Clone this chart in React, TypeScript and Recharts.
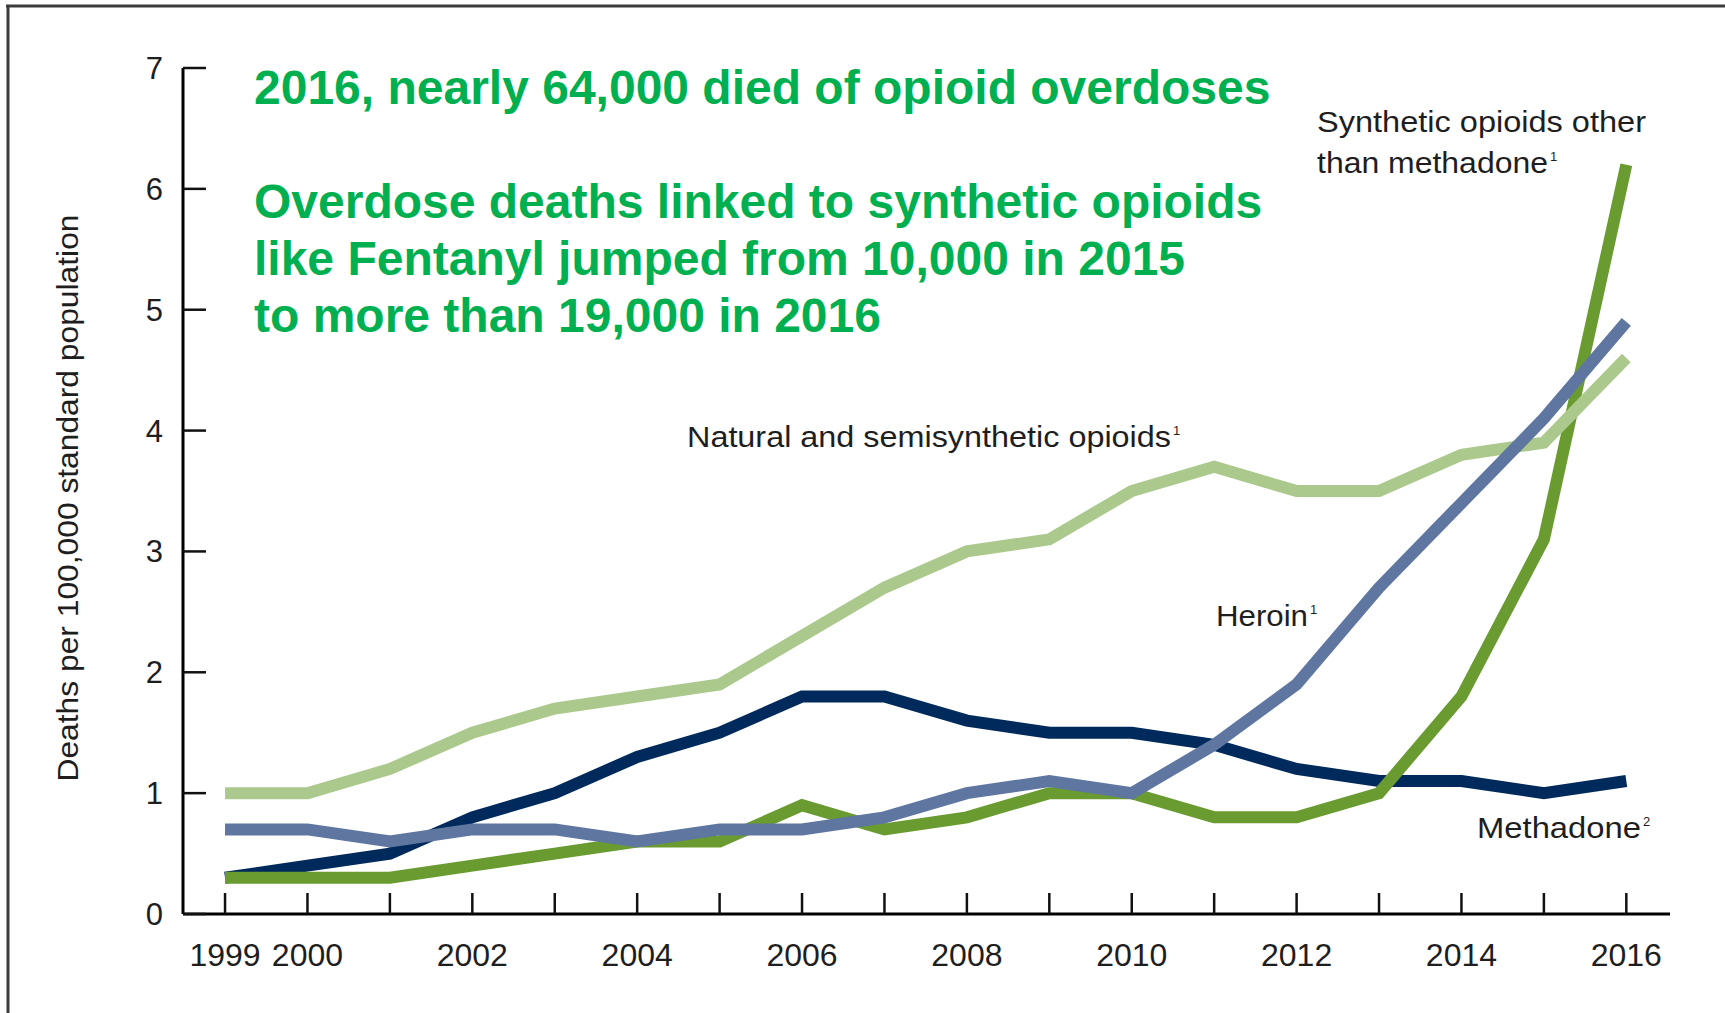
import { LineChart, Line, XAxis, YAxis } from "recharts";

const years = [
  1999, 2000, 2001, 2002, 2003, 2004, 2005, 2006, 2007, 2008, 2009, 2010,
  2011, 2012, 2013, 2014, 2015, 2016,
];
const naturalSemisynthetic = [
  1.0, 1.0, 1.2, 1.5, 1.7, 1.8, 1.9, 2.3, 2.7, 3.0, 3.1, 3.5, 3.7, 3.5, 3.5,
  3.8, 3.9, 4.6,
];
const heroin = [
  0.7, 0.7, 0.6, 0.7, 0.7, 0.6, 0.7, 0.7, 0.8, 1.0, 1.1, 1.0, 1.4, 1.9, 2.7,
  3.4, 4.1, 4.9,
];
const methadone = [
  0.3, 0.4, 0.5, 0.8, 1.0, 1.3, 1.5, 1.8, 1.8, 1.6, 1.5, 1.5, 1.4, 1.2, 1.1,
  1.1, 1.0, 1.1,
];
const syntheticOther = [
  0.3, 0.3, 0.3, 0.4, 0.5, 0.6, 0.6, 0.9, 0.7, 0.8, 1.0, 1.0, 0.8, 0.8, 1.0,
  1.8, 3.1, 6.2,
];
const yTicks = [0, 1, 2, 3, 4, 5, 6, 7];
const labelledYears = [1999, 2000, 2002, 2004, 2006, 2008, 2010, 2012, 2014, 2016];

const headline = [
  "2016, nearly 64,000 died of opioid overdoses",
  "Overdose deaths linked to synthetic opioids",
  "like Fentanyl jumped from 10,000 in 2015",
  "to more than 19,000 in 2016",
];

const data = years.map((year, i) => ({
  year,
  natural: naturalSemisynthetic[i],
  heroin: heroin[i],
  methadone: methadone[i],
  synthetic: syntheticOther[i],
}));

const FONT = '"Liberation Sans", Arial, Helvetica, sans-serif';
const TEXT = "#1e1e1e";

const YearTick = (props: any) => {
  const { x, y, payload } = props;
  const show = labelledYears.includes(payload.value);
  return (
    <g>
      <line x1={x} x2={x} y1={y} y2={y - 21} stroke="#111" strokeWidth={2.5} />
      {show && (
        <text x={x} y={y + 52} textAnchor="middle" fontSize={32} fill={TEXT} fontFamily={FONT}>
          {payload.value}
        </text>
      )}
    </g>
  );
};

const RateTick = (props: any) => {
  const { x, y, payload } = props;
  return (
    <g>
      <line x1={x} x2={x + 23} y1={y} y2={y} stroke="#111" strokeWidth={2.5} />
      <text
        x={x - 20}
        y={y}
        dy={11}
        textAnchor="end"
        fontSize={31}
        fill={TEXT}
        fontFamily={FONT}
      >
        {payload.value}
      </text>
    </g>
  );
};

// series label with a small superscript note marker
const SeriesLabel = ({
  x,
  y,
  text,
  width,
  note,
}: {
  x: number;
  y: number;
  text: string;
  width: number;
  note?: string;
}) => (
  <g fontFamily={FONT} fill={TEXT}>
    <text x={x} y={y} fontSize={29} textLength={width} lengthAdjust="spacingAndGlyphs">
      {text}
    </text>
    {note && (
      <text x={x + width + 2} y={y - 12} fontSize={13}>
        {note}
      </text>
    )}
  </g>
);

export default function App() {
  return (
    <div
      style={{
        position: "absolute",
        left: 0,
        top: 0,
        width: 1725,
        height: 1013,
        background: "#fff",
        overflow: "hidden",
      }}
    >
      <LineChart
        width={1725}
        height={1013}
        data={data}
        margin={{ top: 68, right: 55, bottom: 39, left: 103 }}
      >
        <XAxis
          dataKey="year"
          type="number"
          domain={[1998.49, 2016.53]}
          ticks={years}
          interval={0}
          allowDataOverflow
          height={60}
          axisLine={{ stroke: "#000", strokeWidth: 3 }}
          tickLine={false}
          tickSize={0}
          tickMargin={0}
          tick={(p: any) => <YearTick {...p} />}
        />
        <YAxis
          type="number"
          domain={[0, 7]}
          ticks={yTicks}
          interval={0}
          width={80}
          axisLine={{ stroke: "#000", strokeWidth: 3 }}
          tickLine={false}
          tickSize={0}
          tickMargin={0}
          tick={(p: any) => <RateTick {...p} />}
        />
        <Line
          type="linear"
          dataKey="methadone"
          stroke="#002a5c"
          strokeWidth={12}
          dot={false}
          isAnimationActive={false}
        />
        <Line
          type="linear"
          dataKey="synthetic"
          stroke="#6a9b30"
          strokeWidth={12}
          dot={false}
          isAnimationActive={false}
        />
        <Line
          type="linear"
          dataKey="natural"
          stroke="#abc98c"
          strokeWidth={12}
          dot={false}
          isAnimationActive={false}
        />
        <Line
          type="linear"
          dataKey="heroin"
          stroke="#5f76a0"
          strokeWidth={12}
          dot={false}
          isAnimationActive={false}
        />
      </LineChart>

      <svg
        width={1725}
        height={1013}
        style={{ position: "absolute", left: 0, top: 0, pointerEvents: "none" }}
      >
        <line x1={6} x2={1725} y1={6} y2={6} stroke="#3c3c3c" strokeWidth={3} />
        <line x1={8} x2={8} y1={5} y2={1013} stroke="#3c3c3c" strokeWidth={3} />

        <text
          transform="translate(68 498) rotate(-90)"
          textAnchor="middle"
          dominantBaseline="central"
          fontSize={29}
          fill={TEXT}
          fontFamily={FONT}
          textLength={567}
          lengthAdjust="spacingAndGlyphs"
        >
          Deaths per 100,000 standard population
        </text>

        <g fontFamily={FONT} fontWeight="bold" fontSize={48} fill="#00b050">
          <text x={254} y={104}>{headline[0]}</text>
          <text x={254} y={218}>{headline[1]}</text>
          <text x={254} y={275}>{headline[2]}</text>
          <text x={254} y={332}>{headline[3]}</text>
        </g>

        <SeriesLabel x={1317} y={132} text="Synthetic opioids other" width={329} />
        <SeriesLabel x={1317} y={173} text="than methadone" width={231} note="1" />
        <SeriesLabel x={687} y={447} text="Natural and semisynthetic opioids" width={484} note="1" />
        <SeriesLabel x={1216} y={626} text="Heroin" width={92} note="1" />
        <SeriesLabel x={1477} y={838} text="Methadone" width={164} note="2" />
      </svg>
    </div>
  );
}
